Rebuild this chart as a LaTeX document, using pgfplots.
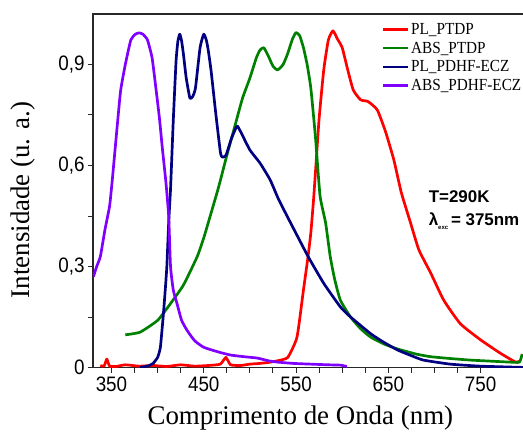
\documentclass[border=0pt]{standalone}
\usepackage{fontspec}
\usepackage{pgfplots}
\pgfplotsset{compat=1.18}
\setmainfont{Liberation Serif}
\setsansfont{Liberation Sans}
\newfontfamily\tickfont{Liberation Sans}[FakeStretch=0.9]
\newfontfamily\legfont{Liberation Serif}[FakeStretch=0.9]

\definecolor{plred}{RGB}{255,0,0}
\definecolor{absgreen}{RGB}{0,128,0}
\definecolor{plnavy}{RGB}{0,0,128}
\definecolor{abspurple}{RGB}{128,0,255}
\definecolor{frame}{RGB}{40,40,40}

\begin{document}
\begin{tikzpicture}
\begin{axis}[
  scale only axis,
  width=433.8bp, height=353.5bp,
  xmin=330, xmax=800, ymin=0, ymax=1.05,
  xtick={350,450,550,650,750},
  minor x tick num=3,
  ytick={0,0.3,0.6,0.9},
  yticklabels={0,{0,3},{0,6},{0,9}},
  minor y tick num=1,
  xtick pos=lower, ytick pos=left,
  tick align=outside,
  major tick length=5bp, minor tick length=5bp,
  every tick/.style={line width=1pt, frame},
  axis line style={line width=1.3pt, frame},
  /pgf/number format/assume math mode=true,
  tick label style={font=\tickfont\fontsize{21}{21}\selectfont},
  xticklabel style={yshift=-1bp},
  xlabel={Comprimento de Onda (nm)},
  ylabel={Intensidade (u. a.)},
  label style={font=\rmfamily\fontsize{27}{27}\selectfont},
  xlabel style={at={(axis description cs:0.478,0)}, anchor=base, yshift=-57bp},
  ylabel style={at={(axis description cs:-0.161,0.474)}, anchor=center},
  legend style={draw=none, fill=none, at={(0.665,0.98)}, anchor=north west,
    font=\legfont\fontsize{17}{17}\selectfont, inner sep=0pt, row sep=2pt,
    legend cell align=left},
  legend image code/.code={\draw[#1, line width=2.5pt] (0bp,0bp) -- (25bp,0bp);},
  every axis plot/.append style={line width=2.7pt, line join=round, smooth, tension=0.3},
]

% PL of PTDP
\addplot[plred] coordinates {
 (338,0.006) (342,0.004) (345,0.025) (348,0.004) (355,0.003) (365,0.008)
 (380,0.004) (395,0.006) (410,0.003) (425,0.008) (440,0.004) (455,0.006)
 (468,0.01) (474,0.03) (479,0.008) (490,0.006) (500,0.01) (510,0.012)
 (520,0.015) (530,0.02) (541,0.03) (551,0.09) (558,0.23) (563,0.33)
 (566,0.40) (569,0.50) (572,0.62) (575,0.74) (580,0.884) (585,0.973)
 (590,1.0) (595,0.975) (600,0.95) (606,0.884) (612,0.824) (620,0.795)
 (628,0.79) (638,0.765) (647,0.70) (656,0.616) (664,0.52) (674,0.43)
 (683,0.35) (696,0.28) (710,0.20) (728,0.13) (750,0.082) (771,0.043)
 (788,0.016) (793,0.02)
};
\addlegendentry{PL\_PTDP}

% absorption of PTDP
\addplot[absgreen] coordinates {
 (365,0.097) (381,0.105) (400,0.14) (414,0.19) (428,0.245) (443,0.33)
 (450,0.385) (457,0.45) (466,0.535) (475,0.63) (484,0.72) (492,0.80)
 (500,0.86) (507,0.92) (511,0.943) (515,0.95) (520,0.925) (525,0.895)
 (530,0.884) (536,0.90) (541,0.933) (546,0.975) (550,0.995) (554,0.985)
 (558,0.95) (562,0.90) (566,0.83) (571,0.685) (576,0.51) (582,0.43)
 (587,0.33) (592,0.26) (598,0.20) (609,0.15) (620,0.115) (631,0.09)
 (645,0.07) (660,0.055) (680,0.04) (696,0.032) (720,0.026) (739,0.022)
 (760,0.019) (782,0.016) (792,0.016) (795,0.04)
};
\addlegendentry{ABS\_PTDP}

% PL of PDHF-ECZ
\addplot[plnavy] coordinates {
 (381,0.0) (390,0.005) (395,0.012) (400,0.03) (403,0.06) (406,0.15)
 (408,0.22) (410,0.30) (412,0.43) (414,0.53) (417,0.735) (420,0.91)
 (422,0.97) (424,0.99) (426,0.97) (428,0.93) (431,0.86) (435,0.80)
 (438,0.805) (441,0.83) (446,0.95) (450,0.99) (453,0.97) (455,0.94)
 (458,0.88) (463,0.755) (468,0.64) (470,0.625) (474,0.63) (480,0.68)
 (486,0.717) (490,0.70) (500,0.646) (511,0.607) (522,0.557) (531,0.50)
 (544,0.43) (563,0.33) (580,0.25) (598,0.18) (609,0.15) (631,0.10)
 (645,0.075) (660,0.052) (675,0.035) (688,0.022) (717,0.01) (750,0.004)
 (800,0.0)
};
\addlegendentry{PL\_PDHF-ECZ}

% absorption of PDHF-ECZ
\addplot[abspurple] coordinates {
 (330.5,0.27) (334,0.30) (338,0.33) (343,0.41) (348,0.48) (351,0.56)
 (354,0.65) (357,0.74) (360,0.824) (365,0.90)
 (371,0.973) (376,0.99) (380,0.994) (384,0.99)
 (389,0.973) (394,0.92) (398,0.833) (402,0.74) (405,0.655) (409,0.55)
 (412,0.45) (414,0.30) (417,0.23) (421,0.19) (426,0.14) (432,0.11)
 (440,0.08) (450,0.06) (466,0.046) (479,0.037) (494,0.032) (508,0.028)
 (520,0.02) (530,0.016) (548,0.012) (566,0.01) (585,0.008) (598,0.007)
 (605,0.003)
};
\addlegendentry{ABS\_PDHF-ECZ}

\node[anchor=base west, font=\sffamily\bfseries\fontsize{17}{17}\selectfont]
  at (axis cs:690,0.489) {T=290K};
\node[anchor=base west, font=\sffamily\bfseries\fontsize{17}{17}\selectfont]
  at (axis cs:690,0.423) {λ{\fontsize{6}{6}\selectfont\raisebox{-1.4ex}{exc}}\,= 375nm};
\end{axis}
\pgfresetboundingbox
\path[use as bounding box]
  ([xshift=-93bp,yshift=-66.5bp]current axis.south west)
  rectangle ([xshift=-3.8bp,yshift=14bp]current axis.north east);
\end{tikzpicture}
\end{document}
